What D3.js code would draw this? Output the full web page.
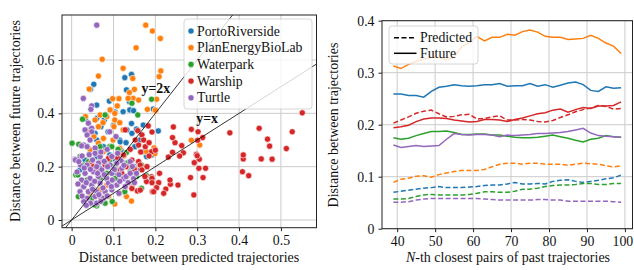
<!DOCTYPE html>
<meta charset="utf-8">
<head>
<style>
body { margin: 0; background: #fff; }
svg text { font-family: "Liberation Serif", "DejaVu Serif", serif; fill: #111; }
.grid line { stroke: #cbcbcb; stroke-width: 1; }
.frame { fill: none; stroke: #222; stroke-width: 1; }
.axlab { font-size: 14px; }
</style>
</head>
<body>
<svg width="634" height="270"></svg>
<script src="https://cdn.jsdelivr.net/npm/d3@7"></script>
<script>

// ---- scatter data (left) : [distance predicted, distance future]
var porto = [[0.143,0.546],[0.127,0.534],[0.053,0.509],[0.045,0.49],[0.131,0.488],[0.09,0.446],[0.138,0.444],
  [0.06,0.431],[0.195,0.416],[0.139,0.413],[0.148,0.41],[0.123,0.406],[0.104,0.405],[0.06,0.381],[0.033,0.379],
  [0.078,0.375],[0.143,0.362],[0.171,0.356],[0.155,0.341],[0.044,0.338],[0.132,0.338],[0.207,0.334],[0.087,0.331],
  [0.056,0.325],[0.144,0.325],[0.06,0.3],[0.115,0.3],[0.116,0.293],[0.076,0.275],[0.151,0.275],[0.171,0.256],
  [0.192,0.244],[0.091,0.244],[0.179,0.238],[0.06,0.238],[0.032,0.225],[0.131,0.213],[0.068,0.194],[0.14,0.193],
  [0.156,0.188],[0.02,0.188],[0.107,0.175],[0.1,0.23],[0.118,0.262],[0.07,0.35],[0.1,0.355],[0.163,0.3],
  [0.13,0.29],[0.088,0.2],[0.15,0.2]];
var planEnergy = [[0.177,0.731],[0.193,0.709],[0.212,0.681],[0.154,0.646],[0.073,0.603],[0.123,0.569],[0.213,0.559],
  [0.209,0.538],[0.146,0.531],[0.064,0.54],[0.042,0.491],[0.15,0.49],[0.138,0.478],[0.147,0.456],[0.135,0.456],
  [0.113,0.455],[0.098,0.455],[0.203,0.453],[0.181,0.415],[0.2,0.409],[0.109,0.428],[0.092,0.413],[0.103,0.4],
  [0.068,0.394],[0.084,0.388],[0.033,0.388],[0.056,0.375],[0.103,0.375],[0.075,0.365],[0.115,0.365],[0.064,0.35],
  [0.101,0.35],[0.123,0.338],[0.038,0.331],[0.053,0.313],[0.076,0.306],[0.099,0.3],[0.064,0.288],[0.044,0.263],
  [0.076,0.256],[0.115,0.269],[0.042,0.213],[0.052,0.2],[0.115,0.188],[0.151,0.194],[0.133,0.165],[0.091,0.15],
  [0.084,0.131],[0.068,0.113],[0.044,0.1],[0.088,0.088],[0.103,0.06],[0.143,0.071],[0.131,0.088],[0.115,0.1],
  [0.179,0.256],[0.197,0.271],[0.306,0.281],[0.286,0.299],[0.199,0.249],[0.2,0.412],[0.16,0.45],[0.125,0.24],
  [0.09,0.22],[0.145,0.13]];
var waterpark = [[0.191,0.453],[0.144,0.438],[0.158,0.394],[0.08,0.394],[0.026,0.378],[0.017,0.284],[0.001,0.288],
  [0.029,0.281],[0.068,0.275],[0.091,0.275],[0.096,0.275],[0.111,0.265],[0.064,0.253],[0.131,0.253],[0.02,0.238],
  [0.04,0.219],[0.068,0.219],[0.091,0.225],[0.103,0.2],[0.135,0.215],[0.167,0.206],[0.024,0.206],[0.03,0.206],
  [0.01,0.169],[0.015,0.169],[0.037,0.15],[0.068,0.156],[0.104,0.156],[0.028,0.125],[0.016,0.088],[0.048,0.081],
  [0.06,0.053],[0.056,0.056],[0.08,0.063],[0.097,0.069],[0.127,0.106],[0.179,0.166],[0.155,0.163],[0.167,0.119],
  [0.084,0.175],[0.11,0.185],[0.12,0.24],[0.05,0.12],[0.14,0.18]];
var warship = [[0.551,0.402],[0.527,0.331],[0.513,0.268],[0.479,0.228],[0.473,0.277],[0.468,0.303],[0.448,0.344],
  [0.453,0.229],[0.423,0.166],[0.408,0.181],[0.41,0.229],[0.41,0.244],[0.378,0.327],[0.313,0.309],[0.32,0.194],
  [0.314,0.159],[0.304,0.194],[0.305,0.228],[0.298,0.246],[0.3,0.241],[0.293,0.215],[0.292,0.094],[0.284,0.159],
  [0.286,0.34],[0.302,0.331],[0.301,0.299],[0.263,0.279],[0.267,0.252],[0.258,0.24],[0.247,0.29],[0.243,0.349],
  [0.241,0.309],[0.241,0.254],[0.231,0.236],[0.254,0.131],[0.236,0.134],[0.235,0.15],[0.225,0.116],[0.22,0.1],
  [0.208,0.14],[0.203,0.121],[0.193,0.106],[0.191,0.162],[0.192,0.33],[0.191,0.256],[0.183,0.353],[0.179,0.144],
  [0.175,0.163],[0.157,0.109],[0.128,0.338],[0.158,0.335],[0.168,0.319],[0.152,0.3],[0.16,0.281],[0.176,0.275],
  [0.2,0.262],[0.048,0.219],[0.076,0.219],[0.124,0.244],[0.144,0.225],[0.16,0.219],[0.088,0.231],[0.052,0.2],
  [0.08,0.206],[0.164,0.206],[0.168,0.188],[0.192,0.156],[0.192,0.14],[0.196,0.106],[0.164,0.112],[0.144,0.118],
  [0.116,0.188],[0.13,0.2],[0.15,0.19],[0.18,0.2],[0.185,0.24],[0.165,0.255],[0.14,0.265],[0.11,0.232],
  [0.172,0.3],[0.185,0.29],[0.21,0.175],[0.12,0.175],[0.07,0.085],[0.06,0.19]];
var turtle = [[0.06,0.731],[0.028,0.456],[0.048,0.428],[0.046,0.415],[0.04,0.363],[0.048,0.344],[0.032,0.338],
  [0.048,0.331],[0.091,0.331],[0.037,0.319],[0.106,0.313],[0.044,0.3],[0.029,0.281],[0.024,0.278],[0.037,0.275],
  [0.056,0.27],[0.008,0.228],[0.016,0.228],[0.009,0.225],[0.021,0.206],[0.056,0.25],[0.068,0.238],[0.096,0.238],
  [0.14,0.219],[0.118,0.222],[0.017,0.219],[0.037,0.206],[0.064,0.213],[0.092,0.206],[0.108,0.213],[0.072,0.188],
  [0.052,0.181],[0.032,0.175],[0.024,0.15],[0.044,0.156],[0.064,0.163],[0.084,0.156],[0.096,0.175],[0.12,0.194],
  [0.124,0.156],[0.108,0.131],[0.088,0.138],[0.068,0.138],[0.048,0.131],[0.029,0.125],[0.02,0.106],[0.04,0.106],
  [0.06,0.106],[0.08,0.106],[0.096,0.113],[0.076,0.081],[0.056,0.088],[0.037,0.081],[0.029,0.069],[0.045,0.063],
  [0.06,0.063],[0.13,0.163],[0.14,0.175],[0.113,0.17],[0.102,0.19],[0.086,0.2],[0.078,0.22],[0.05,0.225],
  [0.03,0.195],[0.013,0.18],[0.045,0.19],[0.062,0.175],[0.078,0.17],[0.097,0.15],[0.115,0.145],[0.135,0.14],
  [0.148,0.155],[0.025,0.09],[0.015,0.135],[0.035,0.14],[0.055,0.145],[0.075,0.12],[0.095,0.125],[0.113,0.1],
  [0.065,0.095],[0.05,0.115],[0.085,0.09],[0.128,0.125],[0.15,0.14],[0.042,0.245],[0.025,0.24],[0.06,0.2],
  [0.085,0.265],[0.07,0.255],[0.11,0.25],[0.125,0.205],[0.145,0.2],[0.155,0.175],[0.035,0.055],[0.07,0.07]];

var sites = ["PortoRiverside", "PlanEnergyBioLab", "Waterpark", "Warship", "Turtle"];
var colors = ["#1f77b4", "#ff7f0e", "#2ca02c", "#d62728", "#9467bd"];
var scatterSets = [porto, planEnergy, waterpark, warship, turtle];

var xTicksL = [0, 0.1, 0.2, 0.3, 0.4, 0.5];
var yTicksL = [0, 0.2, 0.4, 0.6];

// ---- line data (right) : N-th closest pair
var nPairs = [39,41,43,45,47,49,51,53,55,57,59,61,63,65,67,69,71,73,75,77,79,81,83,85,87,89,91,93,95,97,99];
var portoFuture = [0.259,0.259,0.256,0.256,0.253,0.264,0.272,0.274,0.277,0.275,0.274,0.275,0.277,0.277,0.279,0.274,0.275,0.275,0.279,0.274,0.277,0.272,0.276,0.28,0.282,0.277,0.266,0.264,0.273,0.27,0.271];
var portoPred = [0.07,0.072,0.074,0.076,0.078,0.079,0.081,0.079,0.079,0.079,0.08,0.081,0.083,0.084,0.084,0.086,0.089,0.086,0.086,0.087,0.086,0.091,0.093,0.094,0.091,0.089,0.091,0.093,0.096,0.098,0.103];
var planFuture = [0.313,0.308,0.316,0.322,0.326,0.33,0.329,0.325,0.33,0.35,0.358,0.37,0.361,0.368,0.368,0.374,0.372,0.379,0.382,0.378,0.37,0.368,0.368,0.364,0.365,0.366,0.372,0.366,0.357,0.351,0.337];
var planPred = [0.089,0.095,0.097,0.101,0.102,0.099,0.104,0.107,0.11,0.112,0.112,0.112,0.114,0.119,0.124,0.126,0.126,0.124,0.126,0.126,0.124,0.124,0.124,0.122,0.124,0.126,0.125,0.124,0.121,0.119,0.121];
var waterFuture = [0.175,0.172,0.174,0.179,0.183,0.187,0.187,0.188,0.185,0.181,0.181,0.182,0.182,0.18,0.18,0.178,0.176,0.175,0.175,0.176,0.178,0.18,0.177,0.174,0.17,0.167,0.172,0.174,0.179,0.177,0.176];
var waterPred = [0.057,0.057,0.058,0.062,0.065,0.066,0.065,0.065,0.065,0.065,0.066,0.068,0.071,0.071,0.07,0.07,0.072,0.076,0.076,0.078,0.081,0.083,0.084,0.084,0.085,0.087,0.087,0.085,0.085,0.087,0.087];
var warFuture = [0.194,0.196,0.199,0.206,0.211,0.213,0.213,0.212,0.209,0.207,0.205,0.206,0.21,0.21,0.209,0.206,0.21,0.213,0.217,0.221,0.223,0.228,0.23,0.224,0.229,0.233,0.231,0.236,0.236,0.237,0.244];
var warPred = [0.203,0.209,0.215,0.222,0.226,0.228,0.221,0.215,0.216,0.219,0.22,0.211,0.212,0.215,0.217,0.209,0.209,0.21,0.209,0.206,0.205,0.208,0.214,0.219,0.225,0.229,0.232,0.237,0.235,0.23,0.231];
var turtleFuture = [0.161,0.156,0.158,0.16,0.158,0.159,0.16,0.172,0.183,0.181,0.18,0.181,0.181,0.18,0.177,0.18,0.179,0.18,0.181,0.183,0.183,0.184,0.185,0.187,0.19,0.193,0.184,0.179,0.178,0.177,0.176];
var turtlePred = [0.051,0.051,0.052,0.055,0.057,0.058,0.058,0.058,0.058,0.058,0.058,0.058,0.057,0.056,0.055,0.055,0.055,0.055,0.055,0.056,0.056,0.055,0.055,0.053,0.053,0.053,0.053,0.053,0.053,0.052,0.051];

var futureSets = [portoFuture, planFuture, waterFuture, warFuture, turtleFuture];
var predSets = [portoPred, planPred, waterPred, warPred, turtlePred];

var xTicksR = [40, 50, 60, 70, 80, 90, 100];
var yTicksR = [0, 0.1, 0.2, 0.3, 0.4];

var serif = "'Liberation Serif', 'DejaVu Serif', serif";
var fs = "13.8px";
var svg = d3.select("svg");

function fmt(v) { return v === 0 ? "0" : d3.format(".1f")(v); }

function styleAxis(a) {
  a.attr("font-family", serif).attr("font-size", null);
  a.select(".domain").remove();
  a.selectAll("text").style("font-family", serif).style("font-size", fs).attr("fill", "#111");
  a.selectAll("line").attr("stroke", "#222");
}

// ================= left panel =================
var xL = d3.scaleLinear().domain([-0.023, 0.585]).range([62, 316.5]);
var yL = d3.scaleLinear().domain([-0.029, 0.769]).range([227.7, 15]);

var left = svg.append("g");
left.append("clipPath").attr("id", "clipL").append("rect")
  .attr("x", 62).attr("y", 15).attr("width", 254.5).attr("height", 212.7);

var gridL = left.append("g").attr("class", "grid");
gridL.selectAll(".gx").data(xTicksL).enter().append("line")
  .attr("x1", function(d) { return xL(d); }).attr("x2", function(d) { return xL(d); })
  .attr("y1", 15).attr("y2", 227.7);
gridL.selectAll(".gy").data(yTicksL).enter().append("line")
  .attr("y1", function(d) { return yL(d); }).attr("y2", function(d) { return yL(d); })
  .attr("x1", 62).attr("x2", 316.5);

var pts = left.append("g").attr("clip-path", "url(#clipL)");
scatterSets.forEach(function(set, i) {
  pts.selectAll(".p" + i).data(set).enter().append("circle")
    .attr("cx", function(d) { return xL(d[0]); })
    .attr("cy", function(d) { return yL(d[1]); })
    .attr("r", 3.1)
    .attr("fill", colors[i])
    .attr("stroke", "#fff")
    .attr("stroke-width", 0.6);
});

// reference lines y = x and y = 2x
var refX = [-0.023, 0.585];
var refLine = d3.line().x(function(d) { return xL(d[0]); }).y(function(d) { return yL(d[1]); });
[1, 2].forEach(function(k) {
  pts.append("path")
    .attr("d", refLine(refX.map(function(v) { return [v, k * v]; })))
    .attr("fill", "none").attr("stroke", "#000").attr("stroke-width", 0.8);
});
left.append("text").attr("x", xL(0.167)).attr("y", yL(0.478))
  .style("font-size", fs).attr("font-weight", "bold").text("y=2x");
left.append("text").attr("x", xL(0.298)).attr("y", yL(0.364))
  .style("font-size", fs).attr("font-weight", "bold").text("y=x");

left.append("rect").attr("class", "frame").attr("x", 62).attr("y", 15).attr("width", 254.5).attr("height", 212.7);

var axBL = left.append("g").attr("transform", "translate(0,227.7)")
  .call(d3.axisBottom(xL).tickValues(xTicksL).tickFormat(fmt).tickSize(3.5).tickPadding(4));
var axLL = left.append("g").attr("transform", "translate(62,0)")
  .call(d3.axisLeft(yL).tickValues(yTicksL).tickFormat(fmt).tickSize(3.5).tickPadding(4));
styleAxis(axBL); styleAxis(axLL);

left.append("text").attr("class", "axlab").attr("text-anchor", "middle")
  .attr("x", 189).attr("y", 262).text("Distance between predicted trajectories");
left.append("text").attr("class", "axlab").attr("text-anchor", "middle")
  .attr("transform", "translate(20,121) rotate(-90)").text("Distance between future trajectories");

// legend
var legL = left.append("g");
legL.append("rect").attr("x", 184).attr("y", 19).attr("width", 128).attr("height", 90).attr("rx", 3)
  .attr("fill", "#fff").attr("fill-opacity", 0.8).attr("stroke", "#cccccc").attr("stroke-width", 0.8);
sites.forEach(function(s, i) {
  var yy = 31 + i * 16.7;
  legL.append("circle").attr("cx", 191).attr("cy", yy).attr("r", 3.1)
    .attr("fill", colors[i]).attr("stroke", "#fff").attr("stroke-width", 0.6);
  legL.append("text").attr("x", 197).attr("y", yy + 4.6).style("font-size", fs).text(s);
});

// ================= right panel =================
var xR = d3.scaleLinear().domain([36, 102]).range([382, 632.5]);
var yR = d3.scaleLinear().domain([0, 0.4]).range([228.7, 20.7]);

var right = svg.append("g");
var gridR = right.append("g").attr("class", "grid");
gridR.selectAll(".gx").data(xTicksR).enter().append("line")
  .attr("x1", function(d) { return xR(d); }).attr("x2", function(d) { return xR(d); })
  .attr("y1", 20.7).attr("y2", 228.7);
gridR.selectAll(".gy").data(yTicksR).enter().append("line")
  .attr("y1", function(d) { return yR(d); }).attr("y2", function(d) { return yR(d); })
  .attr("x1", 382).attr("x2", 632.5);

var lineR = d3.line()
  .x(function(d, i) { return xR(nPairs[i]); })
  .y(function(d) { return yR(d); });

predSets.forEach(function(set, i) {
  right.append("path").attr("d", lineR(set)).attr("fill", "none")
    .attr("stroke", colors[i]).attr("stroke-width", 1.5).attr("stroke-dasharray", "5,2.5");
});
futureSets.forEach(function(set, i) {
  right.append("path").attr("d", lineR(set)).attr("fill", "none")
    .attr("stroke", colors[i]).attr("stroke-width", 1.5);
});

right.append("rect").attr("class", "frame").attr("x", 382).attr("y", 20.7).attr("width", 250.5).attr("height", 208);

var axBR = right.append("g").attr("transform", "translate(0,228.7)")
  .call(d3.axisBottom(xR).tickValues(xTicksR).tickSize(3.5).tickPadding(4));
var axLR = right.append("g").attr("transform", "translate(382,0)")
  .call(d3.axisLeft(yR).tickValues(yTicksR).tickFormat(fmt).tickSize(3.5).tickPadding(4));
styleAxis(axBR); styleAxis(axLR);
// last label sits on the window edge; pull it in a little so it is not cut
axBR.selectAll(".tick text").filter(function(d) { return d === 100; }).attr("dx", "-2.5");

var xlabR = right.append("text").attr("class", "axlab").attr("text-anchor", "middle")
  .attr("x", 508).attr("y", 262);
xlabR.append("tspan").attr("font-style", "italic").text("N");
xlabR.append("tspan").text("-th closest pairs of past trajectories");
right.append("text").attr("class", "axlab").attr("text-anchor", "middle")
  .attr("transform", "translate(338,125) rotate(-90)").text("Distance between trajectories");

var legR = right.append("g");
legR.append("rect").attr("x", 389).attr("y", 26).attr("width", 89).attr("height", 38).attr("rx", 3)
  .attr("fill", "#fff").attr("fill-opacity", 0.8).attr("stroke", "#cccccc").attr("stroke-width", 0.8);
[["Predicted", "5,2.5"], ["Future", null]].forEach(function(e, i) {
  var yy = 37.7 + i * 15.6;
  legR.append("line").attr("x1", 394).attr("x2", 416.5).attr("y1", yy).attr("y2", yy)
    .attr("stroke", "#000").attr("stroke-width", 1.5).attr("stroke-dasharray", e[1]);
  legR.append("text").attr("x", 420).attr("y", yy + 4.6).style("font-size", fs).text(e[0]);
});

</script>
</body>
